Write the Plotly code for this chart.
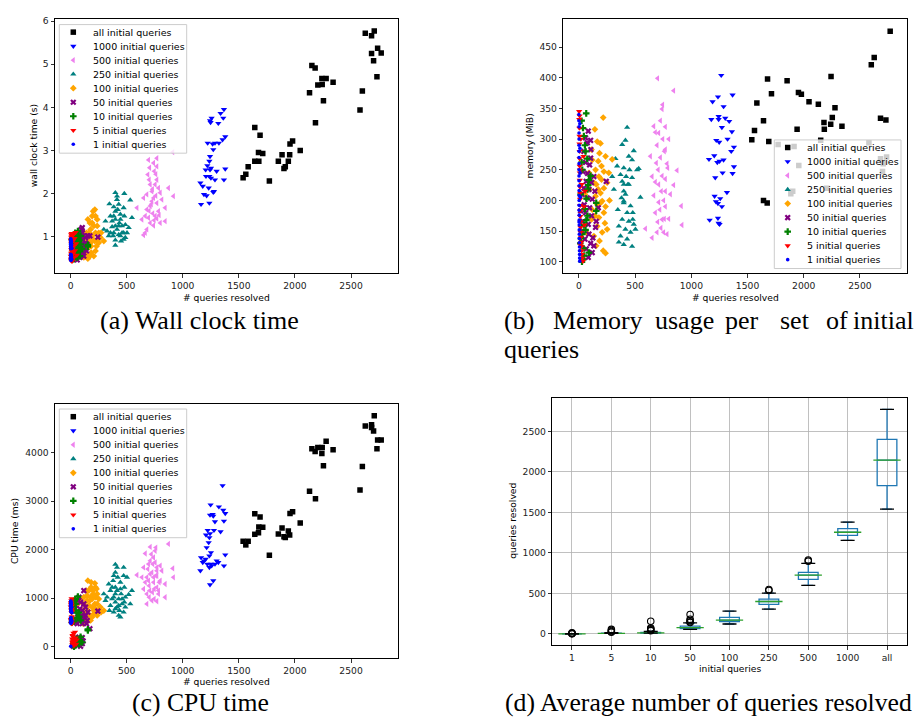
import plotly.graph_objects as go

# ---------------------------------------------------------------- data
SERIES_NAMES = ["all initial queries", "1000 initial queries", "500 initial queries",
                "250 initial queries", "100 initial queries", "50 initial queries",
                "10 initial queries", "5 initial queries", "1 initial queries"]

# "all" initial queries
X_ALL = [1538, 1562, 1583, 1642, 1642, 1675, 1678, 1689, 1713, 1772, 1852, 1885, 1902, 1914,
         1941, 1953, 1956, 1979, 2047, 2130, 2151, 2180, 2183, 2204, 2240, 2243, 2254, 2278,
         2340, 2580, 2601, 2627, 2683, 2683, 2701, 2707, 2731, 2737, 2769]
WALL_ALL = [2.37, 2.45, 2.62, 3.53, 2.75, 2.95, 2.75, 3.35, 2.93, 2.29, 2.75, 2.90, 2.58, 2.62,
            2.75, 2.90, 3.15, 3.22, 3.00, 4.34, 4.97, 4.91, 3.64, 4.52, 4.67, 4.53, 4.15, 4.67,
            4.58, 3.94, 4.38, 5.72, 5.66, 5.25, 5.08, 5.77, 4.71, 5.37, 5.26]
MEM_ALL = [299, 314, 359, 330, 200, 196, 398, 296, 374, 291, 395, 211, 215, 288,
           316, 376, 257, 373, 361, 357, 298, 327, 316, 220, 324, 402, 335, 351,
           321, 294, 421, 433, 334, 268, 247, 260, 331, 271, 476]
CPU_ALL = [2174, 2099, 2174, 2742, 2318, 2352, 2468, 2674, 2462, 1887, 2325, 2448, 2270, 2250,
           2386, 2304, 2749, 2783, 2550, 3207, 4082, 4027, 3050, 4109, 3986, 4109, 3733, 4239,
           4062, 3234, 3720, 4554, 4581, 4520, 4451, 4766, 4082, 4267, 4267]

# 1000 initial queries
X_1000 = [1157, 1163, 1178, 1189, 1204, 1207, 1213, 1219, 1222, 1231, 1237, 1237, 1237, 1243,
          1243, 1243, 1248, 1251, 1251, 1257, 1266, 1272, 1272, 1278, 1287, 1287, 1302, 1317,
          1322, 1337, 1355, 1361, 1367, 1367, 1379, 1379]
WALL_1000 = [2.25, 1.75, 2.17, 1.98, 2.55, 2.40, 1.95, 2.65, 3.17, 2.13, 1.78, 2.40, 2.75, 2.55,
             2.86, 3.69, 3.65, 2.36, 2.59, 3.75, 3.15, 2.03, 3.02, 2.05, 2.32, 3.17, 2.52, 3.63,
             3.17, 3.86, 3.25, 3.75, 2.32, 3.95, 2.57, 3.32]
MEM_1000 = [267, 168, 332, 361, 273, 207, 237, 198, 298, 262, 171, 369, 195, 332,
            337, 163, 295, 264, 161, 203, 404, 190, 319, 245, 266, 353, 334, 213,
            300, 329, 280, 312, 244, 372, 287, 255]
CPU_1000 = [1566, 1839, 1737, 1771, 1805, 2304, 2044, 1703, 2400, 2147, 1634, 2250, 1873, 1279,
            2714, 2332, 2926, 1942, 1703, 1668, 2728, 2694, 1361, 2400, 2578, 1703, 1771, 1737,
            2885, 2373, 3323, 2817, 1668, 2591, 2749, 1894]

# 500 initial queries
X_500 = [592, 636, 651, 651, 666, 666, 680, 680, 680, 689, 695, 695, 700, 701, 705, 710, 710, 710,
         720, 725, 725, 730, 733, 740, 740, 740, 745, 746, 754, 754, 760, 760, 769, 769, 769, 769,
         769, 784, 784, 790, 799, 799, 814, 843, 843, 873, 911, 917]
WALL_500 = [1.67, 1.40, 1.90, 1.04, 1.09, 1.48, 1.98, 1.63, 1.17, 2.44, 2.78, 1.44, 1.60, 2.32,
            2.60, 1.32, 1.71, 2.21, 1.75, 2.05, 1.82, 2.10, 1.54, 2.71, 1.26, 1.90, 1.38, 2.52,
            2.21, 1.48, 1.95, 2.45, 2.82, 2.63, 1.78, 1.42, 2.32, 2.13, 1.59, 1.50, 1.32, 2.02,
            1.86, 1.67, 1.36, 2.13, 2.96, 1.94]
MEM_500 = [154, 272, 239, 139, 208, 321, 311, 180, 230, 261, 148, 290, 399, 165, 250, 226, 197,
           310, 185, 330, 270, 155, 215, 349, 169, 240, 356, 300, 200, 148, 280, 170, 283, 215,
           320, 190, 235, 145, 260, 253, 170, 300, 210, 379, 225, 249, 191, 160]
CPU_500 = [1477, 1429, 1634, 1190, 1327, 1921, 1429, 882, 1087, 1600, 1361, 1703, 1258, 1019,
           1156, 2058, 1771, 1497, 1907, 950, 1532, 1121, 1703, 1429, 1839, 1327, 985, 1190,
           1976, 1737, 1463, 2044, 1566, 1224, 1634, 1463, 937, 1156, 1087, 1327, 1668, 1361,
           1566, 1019, 1293, 2120, 1614, 1429]

# 250 initial queries
X_250 = [296, 311, 325, 340, 346, 355, 355, 370, 370, 379, 385, 385, 385, 399, 399, 399, 399, 399,
         399, 414, 414, 414, 420, 429, 429, 429, 435, 444, 444, 444, 450, 459, 459, 473, 473, 473,
         479, 479, 488, 488, 503, 518, 532, 547]
WALL_250 = [1.17, 1.36, 1.13, 1.02, 1.76, 1.48, 1.09, 1.23, 1.36, 1.02, 1.69, 1.09, 1.48, 2.02,
            1.59, 1.40, 0.92, 0.80, 1.25, 1.86, 1.17, 1.94, 1.63, 1.05, 1.75, 1.25, 1.32, 1.52,
            1.02, 1.40, 0.90, 1.25, 1.09, 1.09, 0.94, 1.67, 2.00, 1.48, 1.28, 0.98, 1.09, 1.21,
            1.85, 1.44]
MEM_250 = [239, 218, 268, 256, 185, 158, 132, 142, 242, 204, 291, 231, 169, 199, 215, 226, 128,
           253, 196, 153, 210, 298, 239, 180, 137, 319, 226, 166, 272, 226, 250, 191, 148, 266,
           125, 237, 169, 180, 161, 281, 153, 250, 252, 205]
CPU_250 = [1087, 950, 1019, 1292, 745, 1156, 848, 985, 1224, 1361, 711, 1463, 1019, 1696, 1224,
           1087, 916, 779, 1532, 814, 1156, 1634, 1429, 985, 643, 848, 745, 1190, 609, 1327,
           1087, 882, 985, 1463, 711, 1634, 1224, 916, 814, 1019, 1429, 1073, 882, 1156]

# 100 initial queries
X_100 = [53, 65, 89, 95, 112, 112, 118, 118, 133, 133, 142, 142, 148, 148, 154, 154, 163, 163, 163,
         172, 172, 178, 178, 183, 183, 192, 192, 192, 201, 201, 207, 207, 216, 216, 222, 222, 222,
         231, 237, 237, 237, 251, 251, 266, 272, 296]
WALL_100 = [0.86, 0.55, 0.78, 1.02, 0.67, 0.94, 0.52, 1.09, 0.86, 0.71, 0.59, 1.09, 1.02, 0.78,
            0.49, 1.40, 0.75, 1.09, 0.94, 1.32, 0.55, 1.17, 0.86, 0.63, 0.78, 1.48, 1.02, 1.32,
            0.94, 1.59, 1.25, 0.55, 1.63, 0.90, 1.09, 1.48, 0.67, 0.78, 1.40, 1.25, 0.94, 0.86,
            1.09, 0.98, 1.09, 0.90]
MEM_100 = [210, 148, 245, 218, 169, 283, 266, 185, 142, 229, 175, 316, 250, 207, 226, 126, 296,
           193, 158, 218, 264, 239, 172, 134, 277, 212, 196, 293, 256, 234, 199, 148, 118, 335,
           247, 220, 180, 163, 114, 272, 190, 153, 229, 245, 200, 267]
CPU_100 = [540, 882, 609, 985, 745, 472, 882, 1019, 574, 677, 1156, 814, 1053, 950, 745, 1361,
           540, 1156, 848, 643, 950, 540, 1019, 1327, 1224, 814, 609, 985, 1156, 1087, 677, 745,
           1306, 882, 1224, 1019, 779, 1190, 643, 1087, 882, 985, 745, 814, 711, 745]

# 50 initial queries
X_50 = [15, 24, 30, 36, 36, 44, 44, 47, 53, 59, 59, 59, 65, 65, 74, 74, 77, 83, 83, 83, 89, 89,
        95, 95, 104, 104, 104, 106, 112, 112, 118, 118, 124, 133, 133, 142, 148, 154, 172, 243]
WALL_50 = [0.49, 0.75, 1.02, 0.55, 0.67, 0.86, 0.71, 0.94, 0.59, 0.98, 0.67, 0.46, 1.09, 0.82,
           0.78, 0.90, 1.02, 1.09, 0.52, 0.71, 0.90, 0.55, 0.63, 1.17, 1.21, 0.94, 0.82, 1.09,
           0.75, 0.63, 1.02, 0.55, 0.75, 0.86, 0.98, 0.67, 0.82, 1.02, 1.02, 0.99]
MEM_50 = [183, 210, 150, 247, 166, 280, 220, 193, 137, 262, 180, 302, 231, 121, 204, 294, 244,
          161, 107, 313, 218, 145, 258, 188, 130, 298, 269, 283, 229, 175, 115, 202, 139, 239,
          126, 215, 156, 166, 188, 231]
CPU_50 = [745, 7, 130, 574, 164, 48, 848, 506, 96, 472, 27, 144, 677, 950, 198, 1019, 130, 779,
          62, 540, 7, 916, 643, 164, 472, 62, 185, 745, 116, 540, 1156, 882, 609, 814, 643, 472,
          540, 711, 369, 732]

# 10 initial queries
X_10 = [65, 44, 74, 30, 53, 24, 83, 154, 154, 104, 36, 59, 15, 47, 89, 30, 68, 24, 53, 77, 41,
        18, 89, 59, 36, 47, 12, 65, 27, 77]
WALL_10 = [1.13, 1.02, 0.90, 0.78, 0.67, 0.59, 0.55, 0.81, 0.77, 0.71, 0.94, 0.86, 0.71, 0.55,
           1.02, 0.48, 0.75, 0.86, 0.98, 0.67, 1.09, 0.63, 0.82, 0.52, 0.75, 1.05, 0.94, 0.63,
           0.52, 0.92]
MEM_10 = [342, 305, 268, 250, 290, 330, 225, 183, 196, 240, 318, 280, 210, 160, 233, 145, 203,
          262, 186, 175, 122, 138, 115, 152, 104, 110, 130, 168, 100, 218]
CPU_10 = [1032, 882, 700, 520, 160, 60, 130, 335, 356, 90, 950, 600, 780, 30, 540, 0, 120, 840,
          700, 50, 980, 560, 200, 80, 880, 750, 500, 150, 20, 620]

# 5 initial queries
X_5 = [2, 3, 4, 5, 5, 6, 6, 7, 8, 8, 9, 10, 10, 11, 12, 12, 14, 15, 16, 18, 20, 22, 25, 28, 30,
       35, 40, 45, 50, 55, 6, 9, 13, 17, 24]
WALL_5 = [0.55, 0.92, 0.48, 1.05, 0.62, 0.85, 0.44, 0.98, 0.58, 0.75, 1.08, 0.50, 0.88, 0.66,
          0.95, 0.46, 0.80, 1.02, 0.53, 0.72, 0.90, 0.60, 1.06, 0.78, 0.52, 0.96, 0.68, 1.10,
          0.84, 0.57, 0.70, 1.00, 0.43, 0.93, 0.64]
MEM_5 = [345, 332, 318, 305, 292, 280, 268, 256, 245, 233, 222, 212, 202, 192, 183, 174, 165,
         156, 148, 140, 132, 125, 118, 112, 106, 101, 272, 190, 160, 215, 338, 250, 128, 300, 226]
CPU_5 = [820, 560, 910, 480, 760, 880, 530, 950, 700, 590, 990, 510, 840, 620, 780, 470, 160, 90,
         40, 120, 210, 60, 280, 150, 20, 100, 300, 180, 50, 140, 870, 540, 730, 230, 80]

# 1 initial query
X_1 = [0, 0, 1, 1, 1, 1, 1, 1, 1, 1, 1, 1, 2, 2, 2, 2, 2, 2, 3, 3, 3, 3, 4, 4, 4, 5, 5, 6, 6, 7,
       8, 9, 10, 12, 1]
WALL_1 = [0.46, 0.82, 0.50, 0.74, 0.55, 0.88, 0.48, 0.79, 0.58, 0.92, 0.52, 0.85, 0.47, 0.77,
          0.56, 0.94, 0.51, 0.83, 0.49, 0.72, 0.59, 0.90, 0.53, 0.80, 0.45, 0.86, 0.57, 0.76,
          0.50, 0.89, 0.54, 0.81, 0.48, 0.73, 0.95]
MEM_1 = [340, 330, 320, 310, 300, 290, 280, 270, 260, 250, 240, 232, 224, 216, 208, 200, 192,
         184, 176, 168, 160, 152, 145, 138, 131, 124, 118, 112, 106, 101, 325, 285, 245, 205, 165]
CPU_1 = [500, 850, 520, 760, 560, 900, 490, 800, 590, 930, 530, 870, 480, 720, 570, 940, 510,
         820, 540, 780, 600, 910, 515, 840, 495, 880, 555, 740, 505, 890, 545, 810, 525, 700, 5]

# box plot (d): queries resolved per number of initial queries
BOX_CATS = ["1", "5", "10", "50", "100", "250", "500", "1000", "all"]
BOX_Q1 = [1, 5, 10, 65, 151, 364, 674, 1217, 1830]
BOX_MED = [1, 6, 12, 78, 170, 400, 725, 1255, 2145]
BOX_Q3 = [1, 9, 18, 95, 204, 429, 760, 1299, 2402]
BOX_LO = [1, 5, 10, 55, 122, 306, 600, 1156, 1540]
BOX_HI = [1, 14, 30, 135, 282, 502, 870, 1381, 2774]
FLIER_CAT = ["1", "1", "1", "1", "5", "5", "5", "5", "10", "10", "10", "10", "10",
             "50", "50", "50", "50", "50", "250", "250", "500", "500"]
FLIER_VAL = [0, 4, 8, 12, 20, 30, 42, 55, 40, 50, 62, 72, 155,
             140, 150, 165, 180, 240, 535, 548, 898, 912]

# ---------------------------------------------------------------- styling
W, H = 917, 719
FONT = "DejaVu Sans"
TICKFONT = dict(family=FONT, size=9.2, color="#222222")


def fx(p):
    return p / W


def fy(p):
    return 1 - p / H


STYLE = [  # colour, symbol, size  (same order as SERIES_NAMES)
    ("black", "square", 5.5),
    ("#0000ff", "triangle-down", 5.5),
    ("#ee82ee", "triangle-left", 5.5),
    ("#008080", "triangle-up", 5.5),
    ("#ffa500", "diamond", 5.2),
    ("#800080", "x", 5.5),
    ("#008000", "cross", 5.5),
    ("#ff0000", "triangle-down", 5.5),
    ("#0000ff", "circle", 3.6),
]

SERIES = [
    (X_ALL, WALL_ALL, MEM_ALL, CPU_ALL),
    (X_1000, WALL_1000, MEM_1000, CPU_1000),
    (X_500, WALL_500, MEM_500, CPU_500),
    (X_250, WALL_250, MEM_250, CPU_250),
    (X_100, WALL_100, MEM_100, CPU_100),
    (X_50, WALL_50, MEM_50, CPU_50),
    (X_10, WALL_10, MEM_10, CPU_10),
    (X_5, WALL_5, MEM_5, CPU_5),
    (X_1, WALL_1, MEM_1, CPU_1),
]

# plot-area boxes in pixels (left, right, top, bottom)
BOX_A = (55, 397.7, 15, 271)
BOX_B = (563.3, 906.7, 15, 271)
BOX_C = (55, 397.7, 402.7, 657.7)
BOX_D = (552.3, 906.7, 396, 644.7)


def marker(i):
    c, s, z = STYLE[i]
    return dict(color=c, symbol=s, size=z, line=dict(width=0))


fig = go.Figure()

panels = [("x", "y", 1), ("x2", "y2", 2), ("x3", "y3", 3)]
for xa, ya, k in panels:
    for i, name in enumerate(SERIES_NAMES):
        xs = SERIES[i][0]
        ys = SERIES[i][k]
        fig.add_trace(go.Scatter(x=xs, y=ys, mode="markers", name=name,
                                 marker=marker(i), xaxis=xa, yaxis=ya,
                                 showlegend=False))

# box plot (d)
fig.add_trace(go.Box(x=BOX_CATS, q1=BOX_Q1, median=BOX_MED, q3=BOX_Q3,
                     lowerfence=BOX_LO, upperfence=BOX_HI, boxpoints=False,
                     width=0.5, whiskerwidth=0.5, fillcolor="rgba(0,0,0,0)",
                     line=dict(color="#1f77b4", width=1.3), xaxis="x4", yaxis="y4",
                     showlegend=False))
fig.add_trace(go.Scatter(x=BOX_CATS, y=BOX_MED, mode="markers", xaxis="x4", yaxis="y4",
                         marker=dict(symbol="line-ew", size=19.5,
                                     line=dict(color="#2ca02c", width=1.3)),
                         showlegend=False))
fig.add_trace(go.Scatter(x=BOX_CATS + BOX_CATS, y=BOX_LO + BOX_HI, mode="markers",
                         xaxis="x4", yaxis="y4",
                         marker=dict(symbol="line-ew", size=10,
                                     line=dict(color="black", width=1.3)),
                         showlegend=False))
fig.add_trace(go.Scatter(x=FLIER_CAT, y=FLIER_VAL, mode="markers", xaxis="x4", yaxis="y4",
                         marker=dict(symbol="circle-open", size=6.5,
                                     line=dict(color="black", width=1.1), color="black"),
                         showlegend=False))

# ------------------------------------------------ custom legends (overlay subplot)
LEGENDS = [  # box l, t, r, b, marker x, text x, first row y
    (59.3, 20.7, 186.7, 150.0, 73.3, 90.7, 28.3),
    (774.3, 136.7, 901.0, 266.0, 787.7, 805.3, 144.3),
    (59.3, 407.3, 186.7, 536.7, 73.3, 90.7, 415.0),
]
STEP = 14.1
annotations = []
for (l, t, r, b, mx, tx, y0) in LEGENDS:
    fig.add_trace(go.Scatter(x=[l, r, r, l, l], y=[t, t, b, b, t], mode="lines",
                             fill="toself", fillcolor="rgba(255,255,255,0.8)",
                             line=dict(color="#cccccc", width=1),
                             xaxis="x5", yaxis="y5", hoverinfo="skip", showlegend=False))
    for i, name in enumerate(SERIES_NAMES):
        yy = y0 + i * STEP
        fig.add_trace(go.Scatter(x=[mx], y=[yy], mode="markers", marker=marker(i),
                                 xaxis="x5", yaxis="y5", hoverinfo="skip",
                                 showlegend=False))
        annotations.append(dict(text=name, x=fx(tx), y=fy(yy), xref="paper", yref="paper",
                                xanchor="left", yanchor="middle", showarrow=False,
                                font=dict(family=FONT, size=9.5, color="black")))


def axis(box, horiz, **kw):
    l, r, t, b = box
    dom = [fx(l), fx(r)] if horiz else [fy(b), fy(t)]
    d = dict(domain=dom, showline=True, mirror=True, linecolor="black", linewidth=1,
             ticks="outside", ticklen=3.5, tickwidth=0.8, tickcolor="black",
             tickfont=TICKFONT, showgrid=False, zeroline=False, fixedrange=True)
    d.update(kw)
    return d


XR = [-139, 2916]
layout = dict(
    width=W, height=H, margin=dict(l=0, r=0, t=0, b=0),
    paper_bgcolor="white", plot_bgcolor="rgba(0,0,0,0)", showlegend=False,
    xaxis=axis(BOX_A, True, range=XR, tick0=0, dtick=500, anchor="y"),
    yaxis=axis(BOX_A, False, range=[0.147, 6.05], tick0=1, dtick=1, anchor="x"),
    xaxis2=axis(BOX_B, True, range=XR, tick0=0, dtick=500, anchor="y2"),
    yaxis2=axis(BOX_B, False, range=[80.9, 495.9], tick0=100, dtick=50, anchor="x2"),
    xaxis3=axis(BOX_C, True, range=XR, tick0=0, dtick=500, anchor="y3"),
    yaxis3=axis(BOX_C, False, range=[-236, 4998], tick0=0, dtick=1000, anchor="x3"),
    xaxis4=axis(BOX_D, True, type="category", categoryorder="array",
                categoryarray=BOX_CATS, range=[-0.5, 8.5], anchor="y4",
                showgrid=True, gridcolor="#b0b0b0", gridwidth=0.8),
    yaxis4=axis(BOX_D, False, range=[-139, 2916], tick0=0, dtick=500, anchor="x4",
                showgrid=True, gridcolor="#b0b0b0", gridwidth=0.8),
    xaxis5=dict(domain=[0, 1], range=[0, W], visible=False, fixedrange=True, anchor="y5"),
    yaxis5=dict(domain=[0, 1], range=[H, 0], visible=False, fixedrange=True, anchor="x5"),
)

# axis titles
TF = dict(family=FONT, size=9.2, color="black")
titles = [
    ("# queries resolved", 226.4, 295, 0),
    ("# queries resolved", 735.0, 295, 0),
    ("# queries resolved", 226.4, 681.7, 0),
    ("initial queries", 729.5, 668.3, 0),
    ("wall clock time (s)", 33, 143, -90),
    ("memory (MiB)", 529.3, 143, -90),
    ("CPU time (ms)", 14, 530, -90),
    ("queries resolved", 511.7, 520, -90),
]
for txt, x, y, ang in titles:
    annotations.append(dict(text=txt, x=fx(x), y=fy(y), xref="paper", yref="paper",
                            xanchor="center", yanchor="middle", showarrow=False,
                            textangle=ang, font=TF))

# captions
CF = dict(family="Liberation Serif", size=26, color="black")
CF2 = dict(family="Liberation Serif", size=25.7, color="black")
captions = [
    ("(a) Wall clock time", 199, 318, "center", CF),
    ("(c) CPU time", 200.5, 702, "center", CF2),
    ("(d) Average number of queries resolved", 503.3, 702, "left", CF2),
    ("queries", 502.3, 347, "left", CF),
    ("(b)", 502.3, 318, "left", CF),
    ("Memory", 551, 318, "left", CF),
    ("usage", 653, 318, "left", CF),
    ("per", 723.3, 318, "left", CF),
    ("set", 777.7, 318, "left", CF),
    ("of", 824, 318, "left", CF),
    ("initial", 915.7, 318, "right", CF),
]
for txt, x, y, anc, f in captions:
    annotations.append(dict(text=txt, x=fx(x), y=fy(y), xref="paper", yref="paper",
                            xanchor=anc, yanchor="middle", showarrow=False, font=f))

layout["annotations"] = annotations
fig.update_layout(**layout)
fig.write_html("out.html",
               config={"displayModeBar": False, "staticPlot": True},
               post_script="document.body.style.margin='0';"
                           "document.body.style.overflow='hidden';")
